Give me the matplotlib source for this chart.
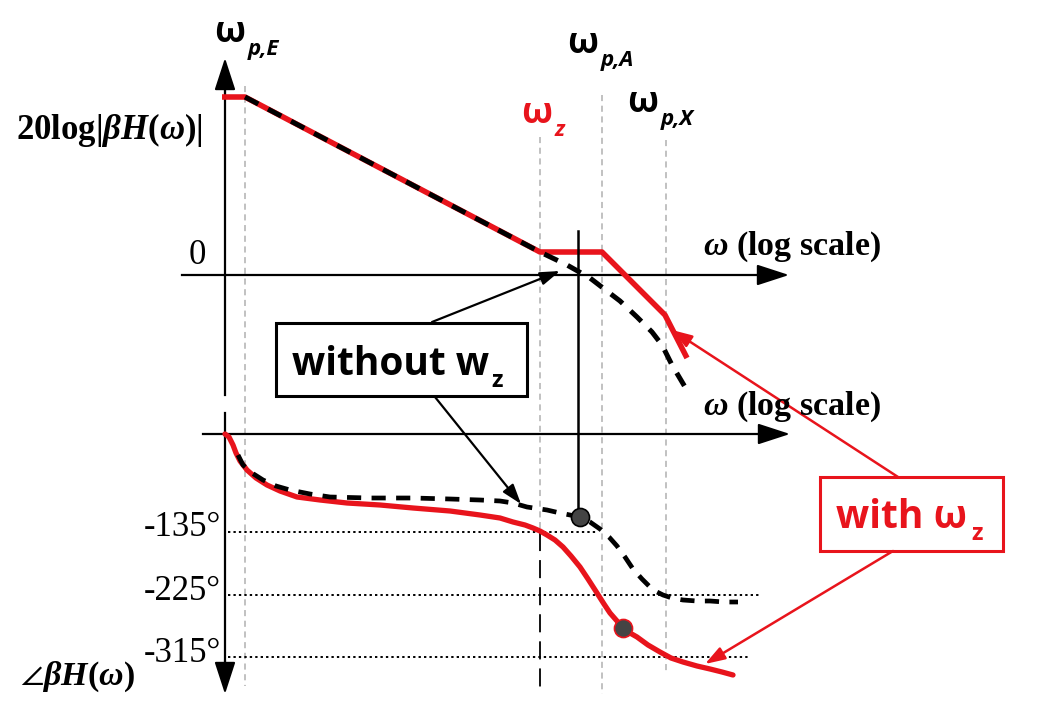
import matplotlib
matplotlib.use("Agg")
import matplotlib.pyplot as plt
from matplotlib.patches import Rectangle

plt.rcParams["mathtext.fontset"] = "custom"
plt.rcParams["mathtext.rm"] = "Liberation Serif:bold"
plt.rcParams["mathtext.it"] = "Liberation Serif:bold:italic"
plt.rcParams["mathtext.bf"] = "Liberation Serif:bold"

# ---------------------------------------------------------------------------
# Curve data (canvas pixel units, y grows downward)
# ---------------------------------------------------------------------------
mag_with_x = [222, 245, 540, 602, 665, 687]
mag_with_y = [97, 97, 252, 252, 315, 358]
mag_without_x = [245, 540, 567, 590, 603, 620, 637, 652, 662, 672, 688]
mag_without_y = [97, 252, 265, 278, 288, 301, 317, 332, 345, 365, 392]

ph_with_x = [225, 229, 233, 236, 240, 247, 256, 267, 280, 297, 320, 347, 380,
             413, 450, 480, 500, 513, 525, 533, 540, 547, 555, 563, 571, 580,
             588, 597, 604, 610, 617, 623, 630, 637, 648, 660, 671, 683, 697,
             710, 722, 733]
ph_with_y = [434, 437, 445, 453, 461, 470, 478, 485, 491, 497, 500, 503, 505,
             508, 511, 515, 518, 522, 525, 528, 531, 535, 540, 547, 556, 567,
             579, 593, 604, 613, 621, 628, 633, 637, 645, 652, 658, 662, 666,
             669, 672, 675]
ph_without_x = [238, 243, 252, 263, 276, 290, 310, 330, 370, 413, 450, 480,
                500, 513, 527, 547, 560, 570, 580, 590, 600, 609, 617, 625,
                633, 642, 650, 657, 663, 672, 683, 697, 710, 724, 738]
ph_without_y = [455, 465, 473, 480, 486, 490, 494, 497, 498, 498, 499, 500,
                501, 503, 507, 510, 513, 515, 517, 522, 529, 537, 546, 557,
                569, 579, 587, 592, 595, 598, 600, 601, 601, 602, 602]

# corner frequencies (x) and where their guide lines start (y)
freq_names = ["p,E", "z", "p,A", "p,X"]
freq_x = [245, 540, 602, 666]
freq_top = [86, 137, 95, 140]

# phase levels
phase_labels = ["-135°", "-225°", "-315°"]
phase_y = [532, 595, 657]
phase_xend = [598, 760, 750]

RED = "#e8141c"

fig = plt.figure(figsize=(10.42, 7.04), dpi=100)
ax = fig.add_axes([0, 0, 1, 1])
ax.set_xlim(0, 1042)
ax.set_ylim(704, 0)
ax.axis("off")


def arrow(x0, y0, x1, y1, color="k", lw=1.5, hl=2.0, hw=0.65, ms=10):
    ax.annotate("", xy=(x1, y1), xytext=(x0, y0),
                arrowprops=dict(arrowstyle=f"-|>,head_length={hl},head_width={hw}",
                                color=color, lw=lw, mutation_scale=ms,
                                shrinkA=0, shrinkB=0))


# guide lines at the corner frequencies
bottoms = [686, 533, 694, 674]
for x, top, bot in zip(freq_x, freq_top, bottoms):
    ax.plot([x, x], [top, bot], color="#b0b0b0", lw=1.1, ls=(0, (4, 3)), zorder=1)
ax.plot([freq_x[1], freq_x[1]], [533, 688], color="k", lw=1.3,
        ls=(0, (10, 5)), zorder=1)

# axes
ax.plot([225, 225], [80, 395], color="k", lw=1.6)
arrow(225, 100, 225, 58)
ax.plot([182, 770], [275, 275], color="k", lw=1.6)
arrow(760, 275, 789, 275)
ax.plot([225, 225], [413, 670], color="k", lw=1.6)
arrow(225, 660, 225, 694)
ax.plot([203, 770], [434, 434], color="k", lw=1.6)
arrow(760, 434, 790, 434)

# phase level lines + labels
for lab, y, xe in zip(phase_labels, phase_y, phase_xend):
    ax.plot([228, xe], [y, y], color="k", lw=1.4, ls=(0, (1.2, 1.6)), zorder=1)
    ax.text(221, y - 4, lab, ha="right", va="center", fontsize=25,
            family="Liberation Serif")

# magnitude curves
ax.plot(mag_with_x, mag_with_y, color=RED, lw=4, solid_capstyle="butt", zorder=3)
ax.plot(mag_without_x, mag_without_y, color="k", lw=3.6, ls=(0, (3, 2.2)), zorder=4)

# phase curves
ax.plot(ph_with_x, ph_with_y, color=RED, lw=3.8, solid_capstyle="round", zorder=3)
ax.plot(ph_without_x, ph_without_y, color="k", lw=3.4, ls=(0, (3, 2.2)), zorder=4)

# crossover marker line and dots
ax.plot([578, 578], [231, 517], color="k", lw=1.8, zorder=5)
ax.plot([580], [517], "o", ms=13, mfc="#444444", mec="k", mew=1.2, zorder=6)
ax.plot([623], [628], "o", ms=13, mfc="#444444", mec=RED, mew=1.2, zorder=6)

# callout "without w_z"
ax.add_patch(Rectangle((276, 323), 251, 73, fill=False, ec="k", lw=2.2, zorder=5))
ax.text(292, 375, "without w", fontsize=28, weight="bold", family="Open Sans",
        va="baseline", zorder=6)
ax.text(491, 387, "z", fontsize=17, weight="bold", family="Open Sans",
        va="baseline", zorder=6)
arrow(432, 322, 560, 271, lw=1.6, hl=1.2, hw=0.4)
arrow(435, 397, 521, 504, lw=1.6, hl=1.2, hw=0.4)

# callout "with w_z"
ax.add_patch(Rectangle((820, 477), 183, 74, fill=False, ec=RED, lw=2.2, zorder=5))
ax.text(836, 528, "with ω", fontsize=28, weight="bold", family="Open Sans",
        color=RED, va="baseline", zorder=6)
ax.text(971, 540, "z", fontsize=17, weight="bold", family="Open Sans",
        color=RED, va="baseline", zorder=6)
arrow(898, 477, 672, 330, color=RED, lw=1.8, hl=1.2, hw=0.4)
arrow(893, 551, 705, 664, color=RED, lw=1.8, hl=1.2, hw=0.4)

# frequency labels
label_pos = [(214, 42), (521, 123), (567, 53), (627, 112)]
for name, (x, y) in zip(freq_names, label_pos):
    c = RED if name == "z" else "k"
    ax.text(x, y, "ω", fontsize=26, weight="bold", family="Open Sans",
            color=c, va="baseline")
    ax.text(x + 34, y + 13, name, fontsize=16, weight="bold", style="italic",
            family="Open Sans", color=c, va="baseline")

# axis titles
ax.text(109, 130, r"20log|$\beta H(\omega)$|", fontsize=25, ha="center",
        va="center", family="Liberation Serif", weight="bold")
ax.text(197, 256, "0", fontsize=25, ha="center", va="center",
        family="Liberation Serif")
ax.text(703, 247, r"$\omega$ (log scale)", fontsize=24.5, va="center",
        family="Liberation Serif", weight="bold")
ax.text(703, 407, r"$\omega$ (log scale)", fontsize=24.5, va="center",
        family="Liberation Serif", weight="bold")
ax.text(20, 677, r"$\angle\beta H(\omega)$", fontsize=24.5, va="center",
        family="Liberation Serif", weight="bold")

fig.savefig("out.png", dpi=100)
